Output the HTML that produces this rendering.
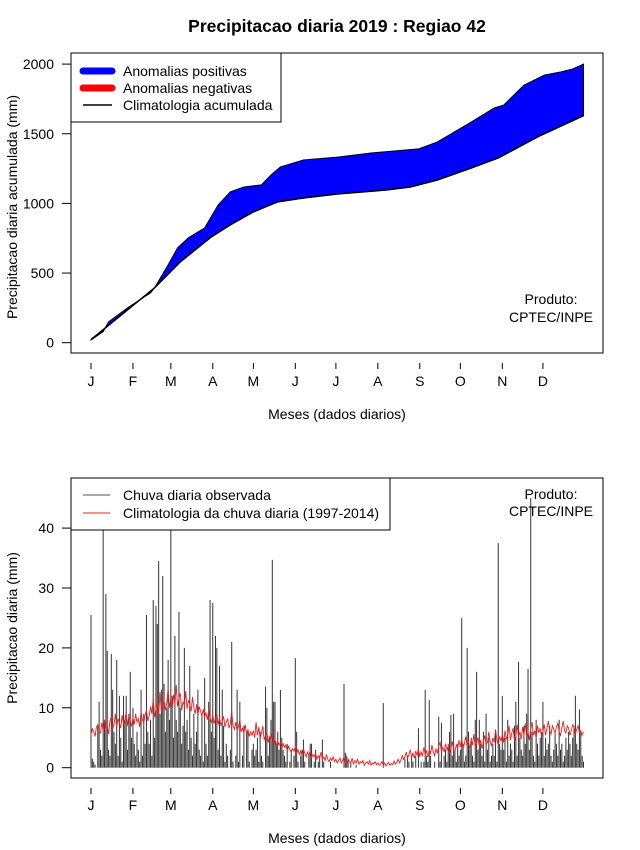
<!DOCTYPE html>
<html><head><meta charset="utf-8"><style>
body{margin:0;background:#fff}
svg{display:block;font-family:"Liberation Sans",Arial,sans-serif}
</style></head><body>
<svg id="chart" width="640" height="850" viewBox="0 0 640 850">
<rect width="640" height="850" fill="#fff"/>
<text x="337" y="32" text-anchor="middle" font-size="17.5" font-weight="bold">Precipitacao diaria 2019 : Regiao 42</text>
<g id="topPanel"></g>
<g id="botPanel"></g>
</svg>
<script>
const months = ["J","F","M","A","M","J","J","A","S","O","N","D"];
const monthStartDays = [1,32,60,91,121,152,182,213,244,274,305,335];
const topTicks = [0,500,1000,1500,2000];
const botTicks = [0,10,20,30,40];
const obsCumDays = [1,10,14,28,45,48,58,65,73,85,95,104,114,127,134,141,158,184,208,243,257,282,299,306,321,336,348,357,365];
const obsCum = [20,79,150,250,358,394,559,681,753,824,989,1083,1118,1133,1204,1262,1312,1333,1362,1391,1441,1584,1685,1706,1849,1921,1943,1965,2000];
const climCumDays = [1,48,67,90,104,121,139,158,184,220,237,257,282,302,331,365];
const climCum = [22,394,580,760,846,939,1011,1039,1068,1097,1118,1168,1254,1326,1477,1630];
const obsDaily = [
25.5,1.5,1,0.5,0,7,11,3,2,44,8,29,19.5,3,2,19,13,6,4,18,2,12,5,1,12,8,12,3,9,16,5,
10,4,2,6,3,1,13,2,9,4,25.5,6,4,8,2,28,5,27,24,34.5,9,13,32,14,6,10,18,8,
44,12,5,22,8,6,26,10,4,7,20,6,8,3,17,5,2,9,4,6,13,3,2,9,1,15,4,2,11,28,6,
27.5,5,22,20,3,17,2,13,7,1,4,2,0,3,21,1,0,2,13,1,11,0,2,7,0,6,6,1,0,3,
4,2,3,5,1,6,2,1,0,13.5,10,2,5,8,34.7,11,11,4,6,3,13,5,3,2,1,4,0,1,3,0,2,
18.3,6,1,0,2,3,4.7,1,0,0,2,4,4,0,1,3,0,1,2,0,4.7,1,0,0,0,0,1,0,0,0,
0,0,0,0,0,0,14,2.5,2,1.5,0,1,0,0,0,0.5,0,0,0,0,0,0,0,0,0,0,0,0,0,0,0,
0,0,0,0,10.8,0,0,0,0,0,0,0,0,0,0,0,0,0,0,0,1.5,0,2,1,0,2,1,0,2,0,6.6,
0,1,0,1,13,2,1,11.3,2,0,0,1,0,0,8.5,1,7.5,0,2,3,1,4,6,8.8,2,9,3,1,4,2,
3,25,4,1,2,20,6,3,5,2,1,8,16,3,8,4,2,6,1,9,3,5,1,2,4,2,6,1,37.5,4,3,
12,3,5,1,8,2,4,3,1,7,11,2,17.7,5,3,2,7,4,9,16.5,3,45,6,2,1,8,4,2,5,6,
11,2,5,3,4,7,2,1,3,6,4,2,8,3,4,1,2,5,3,6,4,2,5,7,12,4,3,9.7,6,2,1];
const climDaily = [
5.5,6.5,6,5.2,6.8,7.2,6,5.8,7.5,6.2,8,6.5,7,5.6,7.8,8.5,6.4,7.2,9,6.8,8.2,7.4,6.6,8.8,7.2,8,9.2,7,8.6,7.8,6.9,
8.4,7.2,9,7.6,8.2,6.8,9.4,8,7.4,8.8,9.6,7.8,8.6,10.2,9,11.5,8.4,9.8,10.6,8.8,12.6,9.4,10.4,11.2,9.6,10.8,13.2,10,
11.4,9.8,12.2,10.6,13.8,10.2,11.6,12.4,9.6,11,10.4,12.8,9.8,11.2,10.6,9.4,11.8,10,9,10.6,8.8,10.2,9.4,8.6,9.8,8.4,9.2,8,9.6,8.2,7.6,
8.8,7.4,8.2,9,7.2,8.4,7,7.8,8.6,6.8,7.6,8.2,6.6,7.4,9.4,7,6.4,7.6,6.2,6.8,8,6,6.6,5.8,7.2,5.6,6.4,5.2,6,5.4,
6.2,5,7.6,5.4,6.8,4.8,5.8,7,4.6,5.4,6,4.2,5.2,4.6,5.8,4,4.8,3.6,4.4,3.8,4.2,3.2,4,3.4,3.8,2.8,3.6,3,2.6,3.2,2.8,
3.4,2.4,3,2.2,2.8,2,3.2,2.4,1.8,2.6,2,2.8,1.6,2.2,1.8,2.4,1.4,2,1.6,2.6,1.4,1.8,1.2,2.2,1.4,1,1.6,1.2,1.8,1,
1.4,0.8,1.2,1.6,0.8,1.2,1.8,1,0.6,1.4,1,0.8,1.6,0.6,1.2,0.8,1.4,0.6,1,0.8,1.2,0.4,0.8,1,0.6,1.2,0.4,0.8,0.6,1,0.5,
0.8,0.4,0.6,1,0.4,0.8,0.3,0.6,0.9,0.4,0.7,0.5,1.1,0.6,0.9,1.4,0.8,1.2,2,1.4,1.8,2.6,1.6,2.2,3,1.8,2.4,1.6,2.8,2,3.2,
1.8,2.6,2,3.4,2.2,2.8,1.8,3,2.4,3.8,2.6,2,3.2,2.4,3.6,4.2,2.8,3.4,2.6,4,3,3.6,2.4,3.2,4.4,3,2.8,3.8,3.2,4.6,
3.4,4.8,3.2,4,5.2,3.6,4.4,3,4.8,3.8,5.6,3.4,4.2,5,3.6,4.6,3.2,4.4,5.4,3.8,4.2,6,4.4,3.6,5,4.2,6.4,4.6,3.8,5.2,4.4,
5.6,4.2,6.2,4.8,5.4,7,4.6,5.8,6.6,4.4,5.2,7.2,5,6,4.8,6.8,5.4,7.4,5.2,6,4.6,6.4,7.6,5.4,6.2,5,7,5.8,6.6,5.2,
6,7.2,5.4,6.6,7.8,6.2,5.6,7,6.4,5.8,6.8,7.4,6,5.4,6.6,7.8,6.2,5.8,7,6.6,5.4,6.2,7.2,6.8,5.6,6.4,7,5.8,6.2,5.4,6];

const NS="http://www.w3.org/2000/svg";
function mk(parent,tag,attrs,text){const e=document.createElementNS(NS,tag);for(const k in attrs)e.setAttribute(k,attrs[k]);if(text!==undefined)e.textContent=text;parent.appendChild(e);return e;}
const xs = d => 91 + (d-1)*1.353;
const yTop = v => 342.7 - v*0.1393;
const yBot = v => 767.7 - v*5.99;
const FS = 14;

function axes(g, boxY, boxH, ticks, yf, tickY, labelY, titleY, ytitle, ytitleY){
  const box=mk(g,'rect',{x:71,y:boxY,width:532,height:boxH,fill:'none',stroke:'#000','stroke-width':1});
  
  
  ticks.forEach(t=>{
    const y=yf(t);
    const tk=mk(g,'line',{x1:62,x2:71,y1:y,y2:y,stroke:'#000'});
    
    
    const lb=mk(g,'text',{x:54,y:y+5,'text-anchor':'end','font-size':FS},String(t));
    
    
  });
  months.forEach((m,i)=>{
    const x=xs(monthStartDays[i]);
    const tk=mk(g,'line',{x1:x,x2:x,y1:tickY,y2:tickY+6,stroke:'#000'});
    
    
    const lb=mk(g,'text',{x:x,y:labelY,'text-anchor':'middle','font-size':FS},m);
    
    
  });
  const xt=mk(g,'text',{x:337,y:titleY,'text-anchor':'middle','font-size':FS},'Meses (dados diarios)');
  
  
  const yt=mk(g,'text',{x:0,y:0,'text-anchor':'middle','font-size':FS,transform:`translate(17,${ytitleY}) rotate(-90)`},ytitle);
  
  
}

// TOP PANEL
const topG=document.getElementById('topPanel');
const fwd=obsCumDays.map((d,i)=>xs(d)+','+yTop(obsCum[i]));
const back=climCumDays.map((d,i)=>xs(d)+','+yTop(climCum[i])).reverse();
const area=mk(topG,'polygon',{points:fwd.concat(back).join(' '),fill:'#0000ff',stroke:'#000','stroke-width':1});


const cl=mk(topG,'polyline',{points:climCumDays.map((d,i)=>xs(d)+','+yTop(climCum[i])).join(' '),fill:'none',stroke:'#000','stroke-width':1.5});


axes(topG,53,300,topTicks,yTop,363,386,419,'Precipitacao diaria acumulada (mm)',207);
const p1=mk(topG,'text',{x:551,y:304,'text-anchor':'middle','font-size':FS},'Produto:');


const p2=mk(topG,'text',{x:551,y:322,'text-anchor':'middle','font-size':FS},'CPTEC/INPE');



// BOTTOM PANEL
const botG=document.getElementById('botPanel');
obsDaily.forEach((v,i)=>{
  const x=xs(i+1);
  const b=mk(botG,'line',{x1:x,x2:x,y1:yBot(0),y2:yBot(v),stroke:'#333','stroke-width':1});
  
  
});
const rl=mk(botG,'polyline',{points:climDaily.map((v,i)=>xs(i+1)+','+yBot(v)).join(' '),fill:'none',stroke:'#ee2020','stroke-width':0.9});


const q1=mk(botG,'text',{x:551,y:499,'text-anchor':'middle','font-size':FS},'Produto:');


const q2=mk(botG,'text',{x:551,y:516,'text-anchor':'middle','font-size':FS},'CPTEC/INPE');


axes(botG,478,300,botTicks,yBot,788,810,843,'Precipitacao diaria (mm)',628);

// LEGENDS
const lg1=mk(topG,'g',{});


mk(lg1,'rect',{x:71,y:53,width:210,height:69,fill:'#fff',stroke:'#000'});
[['Anomalias positivas','#0000ff',7,71],['Anomalias negativas','#ff0000',7,88],['Climatologia acumulada','#000',1.5,105]].forEach(e=>{
  const le=mk(lg1,'g',{});
  
  
  mk(le,'line',{x1:83,x2:112,y1:e[3],y2:e[3],stroke:e[1],'stroke-width':e[2],'stroke-linecap':e[2]>2?'round':'butt'});
  mk(le,'text',{x:123,y:e[3]+5,'font-size':FS},e[0]);
});
const lg2=mk(botG,'g',{});


mk(lg2,'rect',{x:71,y:478,width:319,height:52,fill:'#fff',stroke:'#000'});
[['Chuva diaria observada','#555',495],['Climatologia da chuva diaria (1997-2014)','#ee2020',513]].forEach(e=>{
  const le=mk(lg2,'g',{});
  
  
  mk(le,'line',{x1:83,x2:110,y1:e[2],y2:e[2],stroke:e[1],'stroke-width':1});
  mk(le,'text',{x:123,y:e[2]+5,'font-size':FS},e[0]);
});
</script>
</body></html>
